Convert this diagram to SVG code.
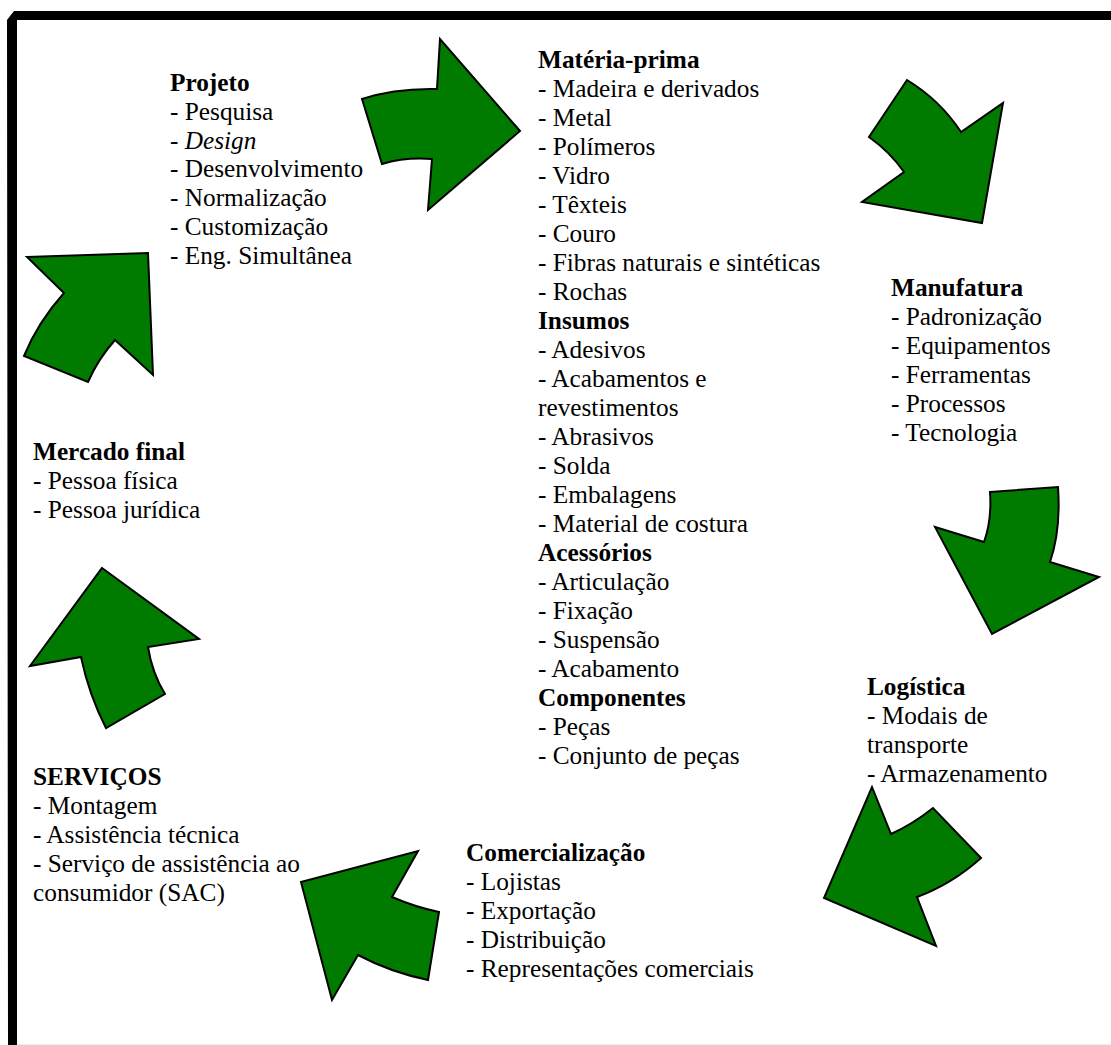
<svg xmlns="http://www.w3.org/2000/svg" width="1111" height="1045" viewBox="0 0 1111 1045">
<style>
  text { font-family: "Liberation Serif", "Times New Roman", serif; font-size: 25.3px; fill: #000; }
  .t { font-weight: bold; }
  .i { font-style: italic; }
  .arrow { fill: #007b00; stroke: #000; stroke-width: 2; stroke-linejoin: miter; }
</style>
<rect x="0" y="0" width="1111" height="1045" fill="#fff"/>
<g id="frame">
  <path d="M7,20 L14,11 L1111,11 L1111,20 L17,20 L17,1045 L8,1045 Z" fill="#000"/>
  <line x1="17" y1="1044.5" x2="1111" y2="1044.5" stroke="#eee" stroke-width="1"/>
</g>
<g id="connectors">
  <path class="arrow" d="M362,99 Q395,88 437,89 L440,39 L520,131 L428,210 L432,159 Q405,157 382,164 Z"/>
  <path class="arrow" d="M907,80 Q940,100 961,132 L1003,103 L982,223 L862,202 L904,172 Q890,152 869,137 Z"/>
  <path class="arrow" d="M990,492 L1058,487 Q1061,530 1050,562 L1099,577 L992,634 L935,527 L984,542 Q992,520 990,492 Z"/>
  <path class="arrow" d="M872,787 L891,834 Q913,824 933,808 L981,858 Q952,884 917,897 L936,946 L824,898 Z"/>
  <path class="arrow" d="M301,882 L418,851 L392,897 Q415,907 439,912 L428,980 Q390,972 358,955 L332,1000 Z"/>
  <path class="arrow" d="M102,568 L199,639 L148,647 Q152,673 165,694 L106,728 Q89,695 81,657 L30,666 Z"/>
  <path class="arrow" d="M27,257 L148,253 L153,375 L115,340 Q98,359 88,382 L24,356 Q38,322 64,293 Z"/>
</g>
<g id="projeto">
  <text x="170" y="91" class="t">Projeto</text>
  <text x="170" y="120">- Pesquisa</text>
  <text x="170" y="149">- <tspan class="i">Design</tspan></text>
  <text x="170" y="177">- Desenvolvimento</text>
  <text x="170" y="206">- Normalização</text>
  <text x="170" y="235">- Customização</text>
  <text x="170" y="264">- Eng. Simultânea</text>
</g>
<g id="materia-prima">
  <text x="538" y="68" class="t">Matéria-prima</text>
  <text x="538" y="97">- Madeira e derivados</text>
  <text x="538" y="126">- Metal</text>
  <text x="538" y="155">- Polímeros</text>
  <text x="538" y="184">- Vidro</text>
  <text x="538" y="213">- Têxteis</text>
  <text x="538" y="242">- Couro</text>
  <text x="538" y="271">- Fibras naturais e sintéticas</text>
  <text x="538" y="300">- Rochas</text>
  <text x="538" y="329" class="t">Insumos</text>
  <text x="538" y="358">- Adesivos</text>
  <text x="538" y="387">- Acabamentos e</text>
  <text x="538" y="416">revestimentos</text>
  <text x="538" y="445">- Abrasivos</text>
  <text x="538" y="474">- Solda</text>
  <text x="538" y="503">- Embalagens</text>
  <text x="538" y="532">- Material de costura</text>
  <text x="538" y="561" class="t">Acessórios</text>
  <text x="538" y="590">- Articulação</text>
  <text x="538" y="619">- Fixação</text>
  <text x="538" y="648">- Suspensão</text>
  <text x="538" y="677">- Acabamento</text>
  <text x="538" y="706" class="t">Componentes</text>
  <text x="538" y="735">- Peças</text>
  <text x="538" y="764">- Conjunto de peças</text>
</g>
<g id="manufatura">
  <text x="891" y="296" class="t">Manufatura</text>
  <text x="891" y="325">- Padronização</text>
  <text x="891" y="354">- Equipamentos</text>
  <text x="891" y="383">- Ferramentas</text>
  <text x="891" y="412">- Processos</text>
  <text x="891" y="441">- Tecnologia</text>
</g>
<g id="logistica">
  <text x="867" y="695" class="t">Logística</text>
  <text x="867" y="724">- Modais de</text>
  <text x="867" y="753">transporte</text>
  <text x="867" y="782">- Armazenamento</text>
</g>
<g id="comercializacao">
  <text x="466" y="861" class="t">Comercialização</text>
  <text x="466" y="890">- Lojistas</text>
  <text x="466" y="919">- Exportação</text>
  <text x="466" y="948">- Distribuição</text>
  <text x="466" y="977">- Representações comerciais</text>
</g>
<g id="servicos">
  <text x="33" y="785" class="t">SERVIÇOS</text>
  <text x="33" y="814">- Montagem</text>
  <text x="33" y="843">- Assistência técnica</text>
  <text x="33" y="872">- Serviço de assistência ao</text>
  <text x="33" y="901">consumidor (SAC)</text>
</g>
<g id="mercado-final">
  <text x="33" y="460" class="t">Mercado final</text>
  <text x="33" y="489">- Pessoa física</text>
  <text x="33" y="518">- Pessoa jurídica</text>
</g>
</svg>
